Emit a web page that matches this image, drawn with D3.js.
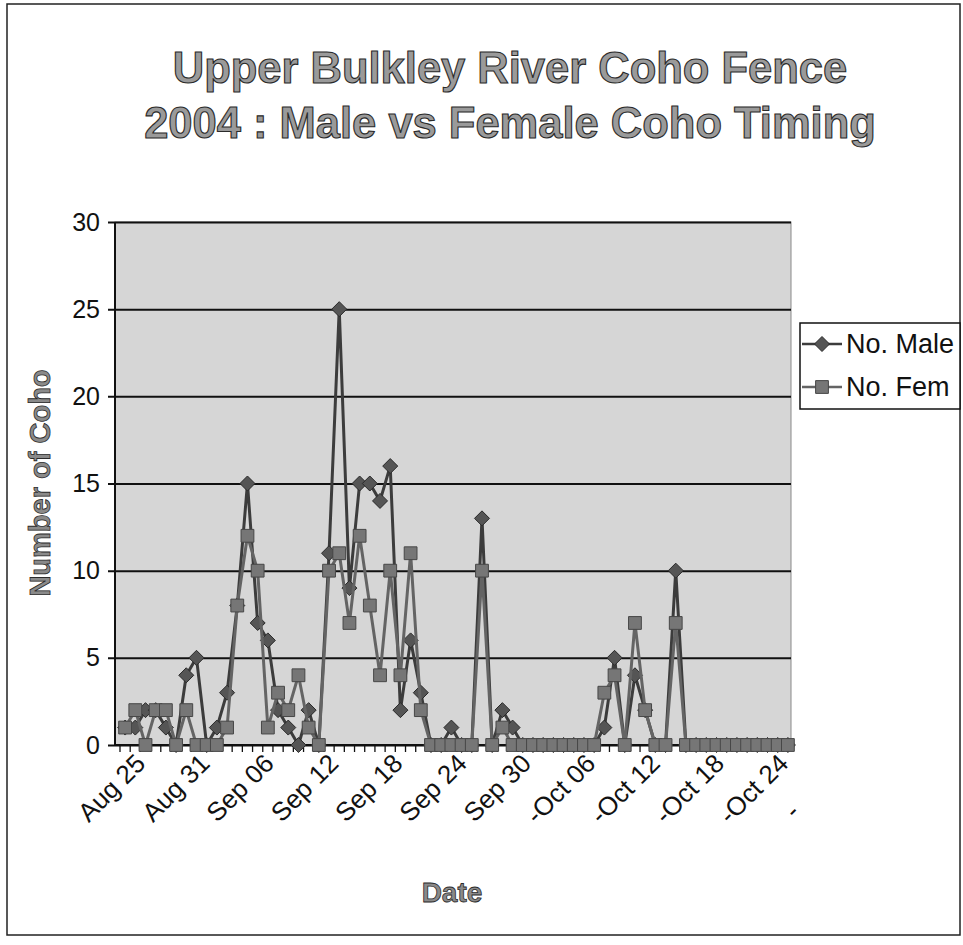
<!DOCTYPE html>
<html><head><meta charset="utf-8">
<script src="https://cdn.jsdelivr.net/npm/d3@7"></script>
<style>body{margin:0;background:#fff}svg{display:block}</style>
</head><body><svg id="c" width="963" height="945"></svg>
<script>
const dates = ["Aug 22","Aug 23","Aug 24","Aug 25","Aug 26","Aug 27","Aug 28","Aug 29","Aug 30","Aug 31",
 "Sep 01","Sep 02","Sep 03","Sep 04","Sep 05","Sep 06","Sep 07","Sep 08","Sep 09","Sep 10",
 "Sep 11","Sep 12","Sep 13","Sep 14","Sep 15","Sep 16","Sep 17","Sep 18","Sep 19","Sep 20",
 "Sep 21","Sep 22","Sep 23","Sep 24","Sep 25","Sep 26","Sep 27","Sep 28","Sep 29","Sep 30",
 "Oct 01","Oct 02","Oct 03","Oct 04","Oct 05","Oct 06","Oct 07","Oct 08","Oct 09","Oct 10",
 "Oct 11","Oct 12","Oct 13","Oct 14","Oct 15","Oct 16","Oct 17","Oct 18","Oct 19","Oct 20",
 "Oct 21","Oct 22","Oct 23","Oct 24","Oct 25","Oct 26"];
const male = [1,1,2,2,1,0,4,5,0,1, 3,8,15,7,6,2,1,0,2,0, 11,25,9,15,15,14,16,2,6,3, 0,0,1,0,0,13,0,2,1,0,
 0,0,0,0,0,0,0,1,5,0, 4,2,0,0,10,0,0,0,0,0, 0,0,0,0,0,0];
const female = [1,2,0,2,2,0,2,0,0,0, 1,8,12,10,1,3,2,4,1,0, 10,11,7,12,8,4,10,4,11,2, 0,0,0,0,0,10,0,1,0,0,
 0,0,0,0,0,0,0,3,4,0, 7,2,0,0,7,0,0,0,0,0, 0,0,0,0,0,0];
const yTicks = [0,5,10,15,20,25,30];
const xTickLabels = ["Aug 25","Aug 31","Sep 06","Sep 12","Sep 18","Sep 24","Sep 30","-Oct 06","-Oct 12","-Oct 18","-Oct 24"];
const trailingLabel = "-";
const seriesNames = ["No. Male","No. Fem"];
const titleLines = ["Upper Bulkley River Coho Fence","2004 : Male vs Female Coho Timing"];
const yTitle = "Number of Coho";
const xTitle = "Date";

const P = {l:115, r:791, t:222, b:745};
const font = "'Liberation Sans', Arial, sans-serif";
const svg = d3.select("#c");

// outer frame
svg.append("rect").attr("x",7).attr("y",4).attr("width",953).attr("height",931)
  .attr("fill","#fff").attr("stroke","#222").attr("stroke-width",1.5);

const xb = d3.scaleBand().domain(dates).range([120, 793]).paddingInner(0).paddingOuter(0);
const bw = xb.bandwidth();
const cx = d => xb(d) + bw/2;
const y = d3.scaleLinear().domain([0,30]).range([P.b, P.t]);
// label positions along the axis (labels in the scan sit on their own, slightly wider spacing)
const xl = d3.scalePoint().domain(xTickLabels).range([147, 790]);

// plot background
svg.append("rect").attr("x",P.l).attr("y",P.t).attr("width",P.r-P.l).attr("height",P.b-P.t)
  .attr("fill","#d6d6d6").attr("stroke","#8a8a8a").attr("stroke-width",1);

// gridlines + y ticks
const gy = svg.append("g").attr("transform",`translate(${P.l},0)`)
  .call(d3.axisLeft(y).tickValues(yTicks).tickSize(-(P.r-P.l)).tickSizeOuter(0).tickPadding(15).tickFormat(d3.format("d")));
gy.select(".domain").remove();
gy.selectAll(".tick line").attr("stroke","#111").attr("stroke-width",2).attr("x1",-7);
gy.selectAll(".tick text").attr("font-family",font).attr("font-size",25).attr("fill","#111");

// y axis line
svg.append("line").attr("x1",P.l).attr("x2",P.l).attr("y1",P.t).attr("y2",P.b)
  .attr("stroke","#111").attr("stroke-width",2);

// x axis
svg.append("line").attr("x1",P.l).attr("x2",P.r).attr("y1",P.b).attr("y2",P.b)
  .attr("stroke","#111").attr("stroke-width",2);
const bounds = dates.map(d => xb(d)).concat([xb(dates[dates.length-1]) + bw]).filter(v => v <= P.r);
svg.append("g").selectAll("line").data(bounds).join("line")
  .attr("x1",d=>d).attr("x2",d=>d).attr("y1",P.b).attr("y2",P.b+7)
  .attr("stroke","#111").attr("stroke-width",1.3);

// x tick labels
svg.append("g").selectAll("text").data(xTickLabels).join("text")
  .attr("font-family",font).attr("font-size",26).attr("fill","#111")
  .attr("text-anchor","end")
  .attr("transform",d => `translate(${xl(d)},${P.b+20}) rotate(-45)`)
  .text(d=>d);
svg.append("text").attr("font-family",font).attr("font-size",26).attr("fill","#111")
  .attr("text-anchor","start")
  .attr("transform",`translate(${xl(xTickLabels[xTickLabels.length-1])+5},${P.b+75}) rotate(-45)`)
  .text(trailingLabel);

// markers
const diamond = r => `M0,${-r}L${r},0L0,${r}L${-r},0Z`;
const square = r => `M${-r},${-r}H${r}V${r}H${-r}Z`;
const series = [
  {name:seriesNames[0], values:male, line:"#3c3c3c", fill:"#555", stroke:"#2a2a2a", path:diamond(7.5)},
  {name:seriesNames[1], values:female, line:"#646464", fill:"#767676", stroke:"#474747", path:square(6.4)}
];
const line = d3.line().x((v,i)=>cx(dates[i])).y(v=>y(v));
series.forEach(s => {
  svg.append("path").attr("d",line(s.values)).attr("fill","none")
    .attr("stroke",s.line).attr("stroke-width",3).attr("stroke-linejoin","round");
  svg.append("g").selectAll("path").data(s.values).join("path")
    .attr("d",s.path)
    .attr("transform",(v,i)=>`translate(${cx(dates[i])},${y(v)})`)
    .attr("fill",s.fill).attr("stroke",s.stroke).attr("stroke-width",1);
});

// legend
const lg = svg.append("g");
lg.append("rect").attr("x",800).attr("y",323).attr("width",160).attr("height",86)
  .attr("fill","#fff").attr("stroke","#111").attr("stroke-width",1.5);
series.forEach((s,k) => {
  const ly = 344 + k*43;
  lg.append("line").attr("x1",802).attr("x2",842).attr("y1",ly).attr("y2",ly)
    .attr("stroke",s.line).attr("stroke-width",2.6);
  lg.append("path").attr("d",s.path)
    .attr("transform",`translate(822,${ly})`).attr("fill",s.fill).attr("stroke",s.stroke);
  lg.append("text").attr("x",846).attr("y",ly+9).attr("font-family",font).attr("font-size",27)
    .attr("fill","#111").text(s.name);
});

// titles
svg.append("g").selectAll("text").data(titleLines).join("text")
  .attr("x",510).attr("y",(d,i)=>83+i*55).attr("text-anchor","middle")
  .attr("font-family",font).attr("font-weight","bold").attr("font-size",43.5)
  .attr("fill","#9a9a9a").attr("stroke","#2a2a2a").attr("stroke-width",1.1)
  .text(d=>d);

svg.append("text").attr("transform","translate(50,483) rotate(-90)").attr("text-anchor","middle")
  .attr("font-family",font).attr("font-weight","bold").attr("font-size",29)
  .attr("fill","#8a8a8a").attr("stroke","#2a2a2a").attr("stroke-width",0.8).text(yTitle);
svg.append("text").attr("x",452).attr("y",902).attr("text-anchor","middle")
  .attr("font-family",font).attr("font-weight","bold").attr("font-size",28)
  .attr("fill","#8a8a8a").attr("stroke","#2a2a2a").attr("stroke-width",0.8).text(xTitle);
</script></body></html>
